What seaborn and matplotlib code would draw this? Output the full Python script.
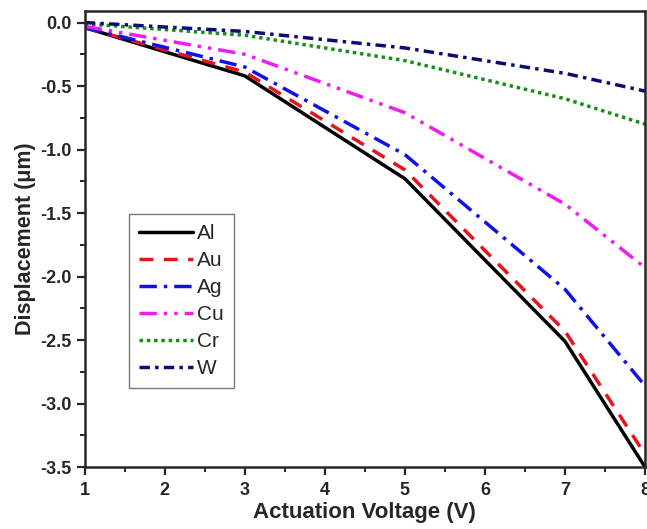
import matplotlib
matplotlib.use("Agg")
import matplotlib.pyplot as plt
import pandas as pd
import seaborn as sns
from matplotlib.ticker import MultipleLocator

voltage = [1, 3, 5, 7, 8]
al = [-0.04, -0.42, -1.23, -2.51, -3.50]
au = [-0.04, -0.39, -1.16, -2.43, -3.40]
ag = [-0.04, -0.35, -1.04, -2.10, -2.86]
cu = [-0.03, -0.25, -0.71, -1.43, -1.93]
cr = [-0.01, -0.10, -0.30, -0.60, -0.80]
w = [0.00, -0.07, -0.20, -0.40, -0.54]

metals = ["Al", "Au", "Ag", "Cu", "Cr", "W"]
series = [al, au, ag, cu, cr, w]

colors = {"Al": "black", "Au": "#e8141c", "Ag": "#1010e8", "Cu": "#f01cf0",
          "Cr": "#1a8c1a", "W": "#0c0c78"}
dashes = {"Al": "", "Au": (4, 3), "Ag": (5, 2, 1, 2), "Cu": (5, 2, 1, 2, 1, 2),
          "Cr": (1, 1.1), "W": (3, 1.5, 1, 1.5)}

rows = []
for name, vals in zip(metals, series):
    for x, y in zip(voltage, vals):
        rows.append({"Voltage": x, "Displacement": y, "Metal": name})
df = pd.DataFrame(rows)

sns.set_style("ticks")
plt.rcParams["font.family"] = ["Liberation Sans", "DejaVu Sans"]

fig = plt.figure(figsize=(6.47, 5.29), dpi=100)
ax = fig.add_axes([0.131, 0.117, 0.866, 0.862])

sns.lineplot(data=df, x="Voltage", y="Displacement", hue="Metal", style="Metal",
             hue_order=metals, style_order=metals, palette=colors, dashes=dashes,
             linewidth=2.5, ax=ax, legend=True)

ax.set_xlim(1, 8)
ax.set_ylim(-3.5, 0.09)
ax.xaxis.set_major_locator(MultipleLocator(1))
ax.xaxis.set_minor_locator(MultipleLocator(0.5))
ax.yaxis.set_major_locator(MultipleLocator(0.5))
ax.yaxis.set_minor_locator(MultipleLocator(0.25))
ax.set_yticklabels([f"{t:.1f}" for t in ax.get_yticks()])
ax.tick_params(which="major", direction="out", length=6, width=1.6, labelsize=13)
ax.tick_params(axis="x", which="major", pad=5)
ax.tick_params(which="minor", direction="out", length=3.5, width=1.4)
for lab in ax.get_xticklabels() + ax.get_yticklabels():
    lab.set_fontweight("bold")
for sp in ax.spines.values():
    sp.set_linewidth(1.8)

ax.set_xlabel("Actuation Voltage (V)", fontsize=16, fontweight="bold", labelpad=2)
ax.set_ylabel("Displacement (\u03bcm)", fontsize=15.5, fontweight="bold", labelpad=3)

leg = ax.legend(loc="upper left", bbox_to_anchor=(0.079, 0.555), fontsize=15,
                frameon=True, fancybox=False, handlelength=2.55, handletextpad=0.2,
                labelspacing=0.38, borderpad=0.5, borderaxespad=0)
leg.get_frame().set_edgecolor("#555555")
leg.get_frame().set_linewidth(1.0)

fig.savefig("out.png", dpi=100)
